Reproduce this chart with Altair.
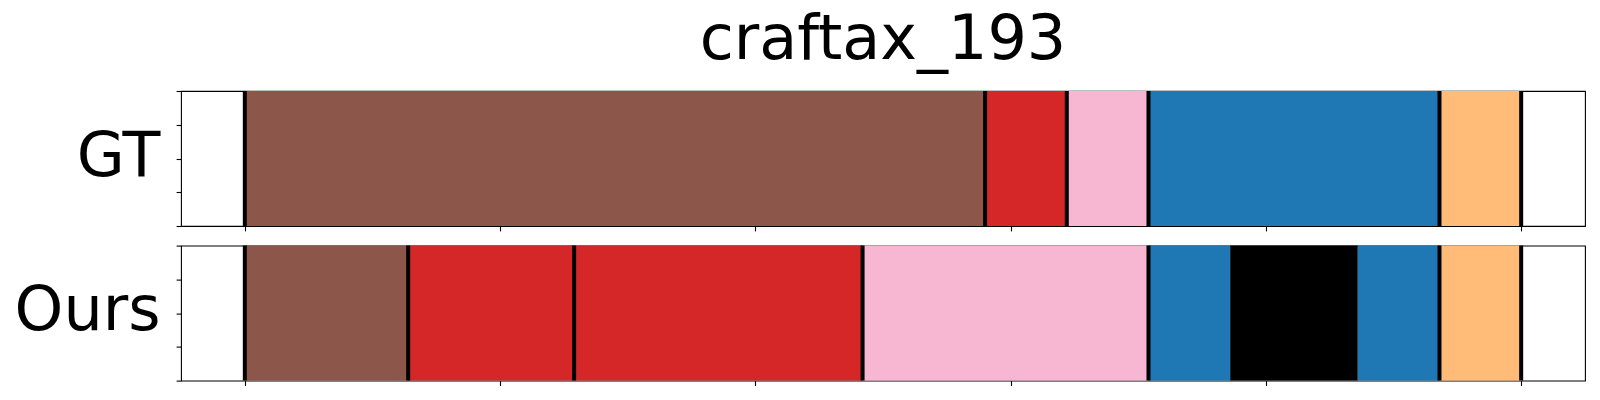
import altair as alt
import pandas as pd

# class colours (tab10 / tab20)
class_names = ["brown", "red", "pink", "blue", "orange", "black"]
class_colors = ["#8c564b", "#d62728", "#f7b6d2", "#1f77b4", "#ffbb78", "#000000"]

# Ground truth segments
gt_starts = [0, 145, 161, 177, 234]
gt_ends = [145, 161, 177, 234, 250]
gt_labels = ["brown", "red", "pink", "blue", "orange"]
gt_bounds = [0, 145, 161, 177, 234, 250]

# Predicted segments
ours_starts = [0, 32, 64.5, 121, 177, 193, 218, 234]
ours_ends = [32, 64.5, 121, 177, 193, 218, 234, 250]
ours_labels = ["brown", "red", "red", "pink", "blue", "black", "blue", "orange"]
ours_bounds = [0, 32, 64.5, 121, 177, 234, 250]

x_ticks = [0, 50, 100, 150, 200, 250]
y_ticks = [0, 0.25, 0.5, 0.75, 1]

FONT = "DejaVu Sans"
W, H = 1404, 135


def panel(name, starts, ends, labels, bounds, title=None):
    seg = pd.DataFrame({"start": starts, "end": ends, "cls": labels})
    seg["y0"] = 0
    seg["y1"] = 1
    bnd = pd.DataFrame({"b": bounds})
    xscale = alt.Scale(domain=[-12.5, 262.5], nice=False, zero=False)
    xaxis = alt.Axis(values=x_ticks, labels=False, title=None, domain=False,
                     grid=False, ticks=True, tickSize=4.9, tickColor="black",
                     tickWidth=1.1, orient="bottom")
    yaxis = alt.Axis(values=y_ticks, labels=False, title=name, titleAngle=0,
                     titleAlign="right", titleBaseline="alphabetic",
                     titleX=-21, titleY=84, titleFontSize=62, titleFont=FONT,
                     titleFontWeight="normal", titleColor="black",
                     domain=False, grid=False, tickSize=4.9,
                     tickColor="black", tickWidth=1.1)
    rects = alt.Chart(seg).mark_rect(strokeWidth=0).encode(
        x=alt.X("start:Q", scale=xscale, axis=xaxis),
        x2="end:Q",
        y=alt.Y("y0:Q", scale=alt.Scale(domain=[0, 1], nice=False), axis=yaxis),
        y2="y1:Q",
        color=alt.Color("cls:N", scale=alt.Scale(domain=class_names, range=class_colors), legend=None),
    )
    rules = alt.Chart(bnd).mark_rule(color="black", strokeWidth=4).encode(
        x=alt.X("b:Q", scale=xscale, axis=xaxis)
    )
    props = dict(width=W, height=H)
    if title is not None:
        props["title"] = alt.TitleParams(title, fontSize=62, font=FONT, fontWeight="normal",
                                         anchor="middle", frame="group", baseline="alphabetic",
                                         offset=-32, color="black")
    return alt.layer(rects, rules).properties(**props)


top = panel("GT", gt_starts, gt_ends, gt_labels, gt_bounds, title="craftax_193")
bottom = panel("Ours", ours_starts, ours_ends, ours_labels, ours_bounds)

chart = alt.vconcat(top, bottom, spacing=10.6).properties(
    padding={"left": 5, "top": 0, "right": 0, "bottom": 0},
    background="white",
).configure_view(stroke="black", strokeWidth=1.1)

chart.save("out.html", embed_options={"renderer": "svg", "actions": False})
